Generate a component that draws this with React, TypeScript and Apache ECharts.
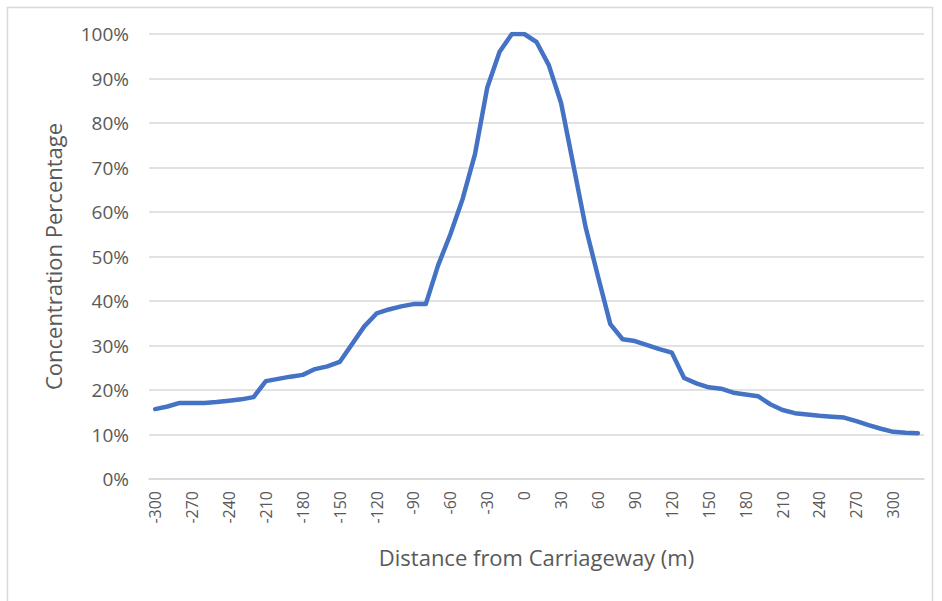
import React, { useEffect, useRef } from "react";
import * as echarts from "echarts";

const distances: string[] = [
  "-300", "-290", "-280", "-270", "-260", "-250", "-240", "-230", "-220", "-210",
  "-200", "-190", "-180", "-170", "-160", "-150", "-140", "-130", "-120", "-110",
  "-100", "-90", "-80", "-70", "-60", "-50", "-40", "-30", "-20", "-10",
  "0", "10", "20", "30", "40", "50", "60", "70", "80", "90",
  "100", "110", "120", "130", "140", "150", "160", "170", "180", "190",
  "200", "210", "220", "230", "240", "250", "260", "270", "280", "290",
  "300", "310", "320",
];

const concentration: number[] = [
  15.7, 16.3, 17.1, 17.1, 17.1, 17.3, 17.6, 17.9, 18.4, 22.0,
  22.5, 23.0, 23.4, 24.7, 25.3, 26.3, 30.3, 34.3, 37.2, 38.1,
  38.8, 39.3, 39.3, 48.0, 55.0, 63.0, 73.0, 88.0, 96.0, 100.0,
  100.0, 98.2, 93.0, 84.5, 70.5, 56.5, 45.5, 34.8, 31.4, 31.0,
  30.1, 29.2, 28.4, 22.7, 21.5, 20.6, 20.3, 19.4, 19.0, 18.6,
  16.8, 15.5, 14.8, 14.5, 14.2, 14.0, 13.8, 13.0, 12.1, 11.3,
  10.6, 10.4, 10.3,
];

const yTicks: number[] = [0, 10, 20, 30, 40, 50, 60, 70, 80, 90, 100];

const xTitle = "Distance from Carriageway (m)";
const yTitle = "Concentration Percentage";

export default function App() {
  const ref = useRef<HTMLDivElement>(null);

  useEffect(() => {
    if (!ref.current) return;
    const chart = echarts.init(ref.current, null, { renderer: "svg" });
    const font = "'Open Sans', 'Noto Sans', sans-serif";
    chart.setOption({
      animation: false,
      backgroundColor: "#ffffff",
      textStyle: { fontFamily: font },
      graphic: [
        {
          type: "rect",
          shape: { x: 7.5, y: 7.5, width: 925, height: 600 },
          style: { fill: "none", stroke: "#d9d9d9", lineWidth: 1.5 },
          silent: true,
        },
      ],
      grid: { left: 149, right: 18, top: 34, bottom: 122, containLabel: false },
      xAxis: {
        type: "category",
        data: distances,
        boundaryGap: true,
        name: xTitle,
        nameLocation: "middle",
        nameGap: 67,
        nameTextStyle: { color: "#595959", fontSize: 22, fontFamily: font },
        axisLine: { show: true, lineStyle: { color: "#d9d9d9", width: 1.5 } },
        axisTick: { show: false },
        axisLabel: {
          interval: 2,
          rotate: 90,
          margin: 12,
          color: "#595959",
          fontSize: 16,
          fontFamily: font,
        },
        splitLine: { show: false },
      },
      yAxis: {
        type: "value",
        min: yTicks[0],
        max: yTicks[yTicks.length - 1],
        interval: 10,
        name: yTitle,
        nameLocation: "middle",
        nameGap: 85,
        nameTextStyle: { color: "#595959", fontSize: 22, fontFamily: font },
        axisLine: { show: false },
        axisTick: { show: false },
        axisLabel: {
          formatter: "{value}%",
          margin: 20,
          color: "#595959",
          fontSize: 19,
          fontFamily: font,
        },
        splitLine: { show: true, lineStyle: { color: "#d9d9d9", width: 1.5 } },
      },
      series: [
        {
          type: "line",
          data: concentration,
          showSymbol: false,
          symbol: "none",
          lineStyle: { color: "#4472c4", width: 4.5, cap: "round", join: "round" },
        },
      ],
    });
    return () => chart.dispose();
  }, []);

  return (
    <div
      ref={ref}
      style={{ position: "fixed", left: 0, top: 0, width: 942, height: 601 }}
    />
  );
}
